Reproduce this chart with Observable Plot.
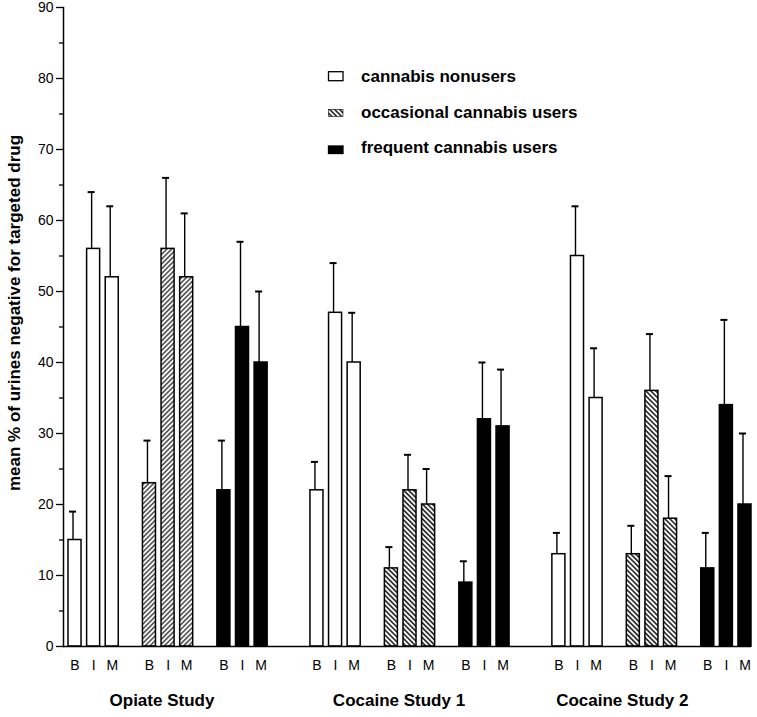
<!DOCTYPE html>
<html><head><meta charset="utf-8">
<script src="https://cdn.jsdelivr.net/npm/d3@7"></script>
<script src="https://cdn.jsdelivr.net/npm/@observablehq/plot@0.6"></script>
<style>
body{margin:0;background:#fff;}
#chart{position:relative;width:757px;height:717px;}
</style>
</head><body><div id="chart"></div>
<script>
const studies = ["Opiate Study", "Cocaine Study 1", "Cocaine Study 2"];
const groups = ["cannabis nonusers", "occasional cannabis users", "frequent cannabis users"];
const phases = ["B", "I", "M"];
// means and error-bar sizes per study, ordered nonusers B,I,M / occasional B,I,M / frequent B,I,M
const opiateMeans   = [15, 56, 52, 23, 56, 52, 22, 45, 40];
const opiateErr     = [4, 8, 10, 6, 10, 9, 7, 12, 10];
const cocaine1Means = [22, 47, 40, 11, 22, 20, 9, 32, 31];
const cocaine1Err   = [4, 7, 7, 3, 5, 5, 3, 8, 8];
const cocaine2Means = [13, 55, 35, 13, 36, 18, 11, 34, 20];
const cocaine2Err   = [3, 7, 7, 4, 8, 6, 5, 12, 10];
const yTicks = [0, 10, 20, 30, 40, 50, 60, 70, 80, 90];
const yMinorTicks = [5, 15, 25, 35, 45, 55, 65, 75, 85];
const yTitle = "mean % of urines negative for targeted drug";
// which bar slot each study label starts at
const studyLabelSlot = ["0-0-M", "1-0-I", "2-0-B"];

const means = [opiateMeans, cocaine1Means, cocaine2Means];
const errs = [opiateErr, cocaine1Err, cocaine2Err];

const rows = [];
const slots = [];
studies.forEach((s, si) => {
  groups.forEach((g, gi) => {
    phases.forEach((p, pi) => {
      const key = `${si}-${gi}-${p}`;
      slots.push(key);
      rows.push({
        study: s, group: g, phase: p, key,
        mean: means[si][gi * 3 + pi],
        err: errs[si][gi * 3 + pi],
        fillKey: gi === 0 ? "open" : gi === 2 ? "solid" : (si === 0 ? "hatchO" : "hatchC")
      });
    });
    if (gi < groups.length - 1) slots.push(`gap-${si}-${gi}`);
  });
  if (si < studies.length - 1) { slots.push(`gap-${si}-a`); slots.push(`gap-${si}-b`); }
});
const studyLabels = studies.map((s, i) => ({study: s, slot: studyLabelSlot[i]}));

const font = "'Liberation Sans', Arial, Helvetica, sans-serif";

const plot = Plot.plot({
  width: 757,
  height: 717,
  marginTop: 7,
  marginBottom: 71,
  marginLeft: 63,
  marginRight: 6,
  style: {fontFamily: font, background: "white", color: "black"},
  x: {type: "band", domain: slots, range: [68, 751], paddingInner: 0.3, paddingOuter: 0, round: false, axis: null},
  y: {domain: [0, 90], axis: null, label: null},
  color: {domain: ["open", "hatchO", "hatchC", "solid"], range: ["#ffffff", "url(#hatchO)", "url(#hatchC)", "#000000"]},
  marks: [
    Plot.axisY(yTicks, {anchor: "left", tickSize: 7, tickPadding: 3, fontSize: 14, strokeWidth: 1.3, label: null}),
    Plot.axisY(yMinorTicks, {anchor: "left", tickSize: 4, tickFormat: () => "", strokeWidth: 1.3, label: null}),
    Plot.frame({anchor: "left", strokeWidth: 1.5}),
    Plot.barY(rows, {x: "key", y: "mean", fill: "fillKey", stroke: "black", strokeWidth: 1.5}),
    Plot.ruleX(rows, {x: "key", y1: "mean", y2: d => d.mean + d.err, dx: -2, strokeWidth: 1.4}),
    Plot.tickY(rows, {x: "key", y: d => d.mean + d.err, dx: -2, insetLeft: 3, insetRight: 3, strokeWidth: 2}),
    Plot.ruleY([0], {strokeWidth: 1.5}),
    Plot.text(rows, {x: "key", y: 0, text: "phase", dy: 19.5, fontSize: 14}),
    Plot.text(studyLabels, {x: "slot", y: 0, text: "study", textAnchor: "start", dx: -2.7, dy: 53.6, fontSize: 17, fontWeight: "bold"}),
    Plot.text([yTitle], {frameAnchor: "left", textAnchor: "middle", rotate: -90, dx: -49, dy: -14, fontSize: 17, fontWeight: "bold"})
  ]
});

const svg = d3.select(plot);
const defs = svg.append("defs");
function hatch(id, angle, size, sw) {
  const p = defs.append("pattern").attr("id", id).attr("patternUnits", "userSpaceOnUse")
    .attr("width", size).attr("height", size).attr("patternTransform", `rotate(${angle})`);
  p.append("rect").attr("width", size).attr("height", size).attr("fill", "#fff");
  p.append("line").attr("x1", size / 2).attr("x2", size / 2).attr("y1", -1).attr("y2", size + 1)
    .attr("stroke", "#000").attr("stroke-width", sw);
}
hatch("hatchO", 45, 3.4, 1.1);
hatch("hatchC", -45, 3.5, 1.4);

// legend
const legend = svg.append("g").attr("font-family", font).attr("font-weight", "bold")
  .attr("font-size", 17).attr("text-anchor", "start");
const legendItems = [
  {label: groups[0], fill: "#fff", y: 71.7, h: 9, tb: 82.3},
  {label: groups[1], fill: "url(#hatchC)", y: 109.3, h: 7, tb: 118.3},
  {label: groups[2], fill: "#000", y: 146, h: 7.5, tb: 153.3}
];
legendItems.forEach(it => {
  legend.append("rect").attr("x", 328.5).attr("y", it.y).attr("width", 14.5).attr("height", it.h)
    .attr("fill", it.fill).attr("stroke", "#000").attr("stroke-width", it.fill === "url(#hatchC)" ? 0.6 : 1.3);
  legend.append("text").attr("x", 361).attr("y", it.tb).attr("fill", "#000")
    .attr("text-anchor", "start").text(it.label);
});

document.getElementById("chart").appendChild(plot);
</script>
</body></html>
